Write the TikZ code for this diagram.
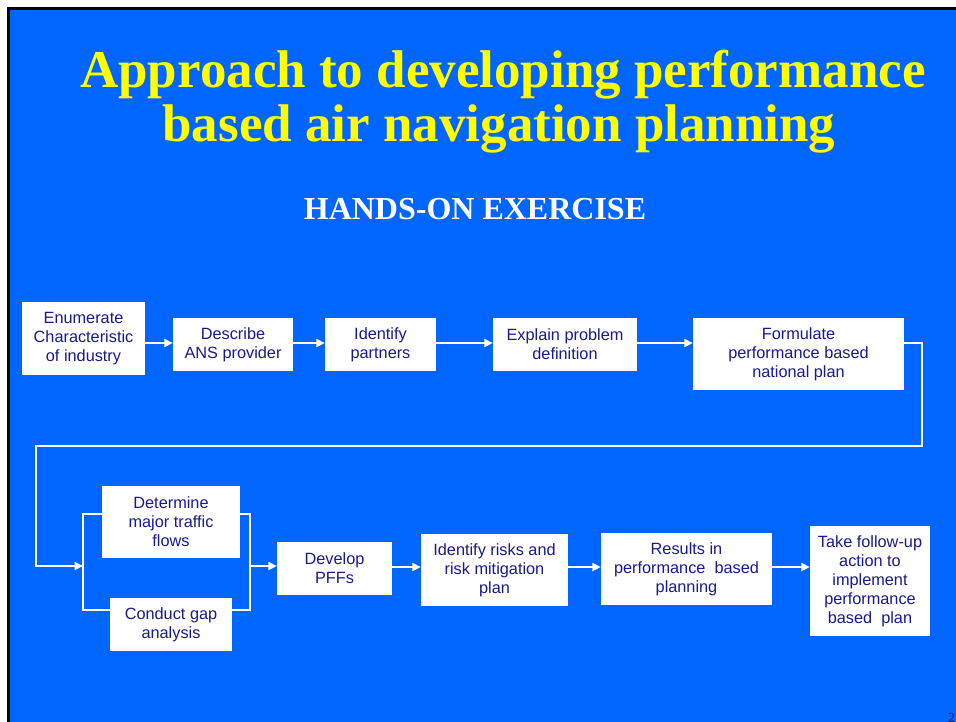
\documentclass[tikz,border=0pt]{standalone}
\usepackage{fontspec}
\setmainfont{Liberation Serif}
\newfontfamily\arialf{Liberation Sans}
\usetikzlibrary{arrows.meta}
\definecolor{bg}{RGB}{0,102,255}
\definecolor{navy}{RGB}{26,26,140}
\definecolor{ttl}{RGB}{255,255,0}
\begin{document}
\begin{tikzpicture}[x=1pt,y=-1pt,
  box/.style={fill=white, text=navy, font=\arialf\fontsize{16.3}{19}\selectfont, align=center, inner sep=0pt},
  conn/.style={draw=white, line width=2.8pt},
  arr/.style={conn, -{Triangle[length=8.5pt,width=8pt]}}]
\useasboundingbox (0,0) rectangle (956,721);
\fill[white] (0,0) rectangle (956,721);
\fill[black] (7,7) rectangle (970,730);
\fill[bg] (10,10) rectangle (970,730);
% titles
\node[text=ttl, font=\bfseries\fontsize{53}{54}\selectfont, anchor=base, inner sep=0pt] (t1) at (503,87) {Approach to developing performance};
\node[text=ttl, font=\bfseries\fontsize{53}{54}\selectfont, anchor=base, inner sep=0pt] (t2) at (499,141) {based air navigation planning};
\node[text=white, font=\bfseries\fontsize{32}{34}\selectfont, anchor=base, inner sep=0pt] (st) at (475,219) {HANDS-ON EXERCISE};
% top row
\node[box, minimum width=123pt, minimum height=73pt] (e1) at (83.5,338.5) {Enumerate\\Characteristic\\of industry};
\node[box, minimum width=120pt, minimum height=53pt] (e2) at (233,344.5) {Describe\\ANS provider};
\node[box, minimum width=111pt, minimum height=53pt] (e3) at (380.5,344.5) {Identify\\partners};
\node[box, minimum width=144pt, minimum height=53pt] (e4) at (565,344.5) {Explain problem\\definition};
\node[box, minimum width=211pt, minimum height=72pt] (e5) at (798.5,354) {Formulate\\performance based\\national plan};
% bottom row
\node[box, minimum width=138pt, minimum height=72pt] (d1) at (171,522) {Determine\\major traffic\\flows};
\node[box, minimum width=122pt, minimum height=53pt] (d2) at (171,624.5) {Conduct gap\\analysis};
\node[box, minimum width=115pt, minimum height=53pt] (d3) at (334.5,568.5) {Develop\\PFFs};
\node[box, minimum width=147pt, minimum height=72pt] (d4) at (494.5,570) {Identify risks and\\risk mitigation\\plan};
\node[box, minimum width=171pt, minimum height=72pt] (d5) at (686.5,569) {Results in\\performance\ \ based\\planning};
\node[box, minimum width=120pt, minimum height=110pt] (d6) at (870,581) {Take follow-up\\action to\\implement\\performance\\based\ \ plan};
% coordinates
\coordinate (r1) at (922,446);
\coordinate (l1) at (36,446);
\coordinate (bl) at (83,566);
\coordinate (br) at (250,566);
\coordinate (blt) at (83,514);
\coordinate (blb) at (83,610);
\coordinate (brt) at (250,514);
\coordinate (brb) at (250,610);
% top connectors
\draw[arr] (e1.east |- 0,343) -- (e2.west |- 0,343);
\draw[arr] (e2.east |- 0,343) -- (e3.west |- 0,343);
\draw[arr] (e3.east |- 0,343) -- (e4.west |- 0,343);
\draw[arr] (e4.east |- 0,343) -- (e5.west |- 0,343);
% loop
\draw[arr] (e5.east |- 0,343) -| (r1) -- (l1) |- (bl);
% bracket
\draw[conn] (d1.west |- blt) -- (blt) -- (blb) -- (d2.west |- blb);
\draw[conn] (d1.east |- brt) -- (brt) -- (brb) -- (d2.east |- brb);
\draw[arr] (br) -- (d3.west |- br);
% bottom connectors
\draw[arr] (d3.east |- 0,567) -- (d4.west |- 0,567);
\draw[arr] (d4.east |- 0,567) -- (d5.west |- 0,567);
\draw[arr] (d5.east |- 0,567) -- (d6.west |- 0,567);
% page number (cut off at the edge as in the reference)
\node[text=navy!60!black, font=\fontsize{14}{14}\selectfont, anchor=north west, inner sep=0pt] (pg) at (948,713) {2};
\end{tikzpicture}
\end{document}
